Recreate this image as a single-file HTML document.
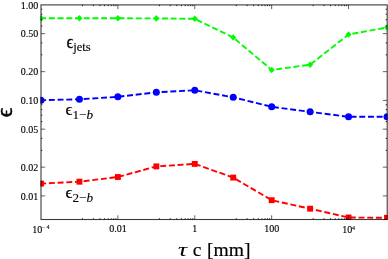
<!DOCTYPE html><html><head><meta charset="utf-8"><style>html,body{margin:0;padding:0;background:#fff}body{width:388px;height:259px;overflow:hidden;position:relative}</style></head><body><svg width="388" height="259" viewBox="0 0 388 259" style="position:absolute;left:0;top:0"><clipPath id="cp"><rect x="40.4" y="4.300000000000001" width="347.2" height="215.79999999999998"/></clipPath><g clip-path="url(#cp)"><polyline points="41.00,18.20 79.44,18.30 117.89,18.30 156.33,18.40 194.78,18.80 233.22,37.50 271.67,70.00 310.11,64.70 348.56,34.50 387.00,27.50" fill="none" stroke="#00fc00" stroke-width="1.9" stroke-dasharray="5.95 2.75" stroke-dashoffset="0.8"/><path d="M41.00 14.90L44.00 18.20L41.00 21.50L38.00 18.20Z" fill="#00fc00"/><path d="M79.44 15.00L82.44 18.30L79.44 21.60L76.44 18.30Z" fill="#00fc00"/><path d="M117.89 15.00L120.89 18.30L117.89 21.60L114.89 18.30Z" fill="#00fc00"/><path d="M156.33 15.10L159.33 18.40L156.33 21.70L153.33 18.40Z" fill="#00fc00"/><path d="M194.78 15.50L197.78 18.80L194.78 22.10L191.78 18.80Z" fill="#00fc00"/><path d="M233.22 34.20L236.22 37.50L233.22 40.80L230.22 37.50Z" fill="#00fc00"/><path d="M271.67 66.70L274.67 70.00L271.67 73.30L268.67 70.00Z" fill="#00fc00"/><path d="M310.11 61.40L313.11 64.70L310.11 68.00L307.11 64.70Z" fill="#00fc00"/><path d="M348.56 31.20L351.56 34.50L348.56 37.80L345.56 34.50Z" fill="#00fc00"/><path d="M387.00 24.20L390.00 27.50L387.00 30.80L384.00 27.50Z" fill="#00fc00"/><polyline points="41.00,100.20 79.44,99.30 117.89,96.80 156.33,92.30 194.78,90.30 233.22,97.30 271.67,106.80 310.11,111.80 348.56,116.80 387.00,116.80" fill="none" stroke="#0000ff" stroke-width="1.9" stroke-dasharray="5.95 2.75" stroke-dashoffset="0.8"/><circle cx="41.00" cy="100.20" r="3.5" fill="#0000ff"/><circle cx="79.44" cy="99.30" r="3.5" fill="#0000ff"/><circle cx="117.89" cy="96.80" r="3.5" fill="#0000ff"/><circle cx="156.33" cy="92.30" r="3.5" fill="#0000ff"/><circle cx="194.78" cy="90.30" r="3.5" fill="#0000ff"/><circle cx="233.22" cy="97.30" r="3.5" fill="#0000ff"/><circle cx="271.67" cy="106.80" r="3.5" fill="#0000ff"/><circle cx="310.11" cy="111.80" r="3.5" fill="#0000ff"/><circle cx="348.56" cy="116.80" r="3.5" fill="#0000ff"/><circle cx="387.00" cy="116.80" r="3.5" fill="#0000ff"/><polyline points="41.00,183.60 79.44,181.70 117.89,177.00 156.33,166.40 194.78,163.90 233.22,177.60 271.67,200.20 310.11,208.70 348.56,217.50 387.00,217.80" fill="none" stroke="#ff0000" stroke-width="1.9" stroke-dasharray="5.95 2.75" stroke-dashoffset="0.8"/><rect x="38.05" y="180.65" width="5.9" height="5.9" fill="#ff0000"/><rect x="76.49" y="178.75" width="5.9" height="5.9" fill="#ff0000"/><rect x="114.94" y="174.05" width="5.9" height="5.9" fill="#ff0000"/><rect x="153.38" y="163.45" width="5.9" height="5.9" fill="#ff0000"/><rect x="191.83" y="160.95" width="5.9" height="5.9" fill="#ff0000"/><rect x="230.27" y="174.65" width="5.9" height="5.9" fill="#ff0000"/><rect x="268.72" y="197.25" width="5.9" height="5.9" fill="#ff0000"/><rect x="307.16" y="205.75" width="5.9" height="5.9" fill="#ff0000"/><rect x="345.61" y="214.55" width="5.9" height="5.9" fill="#ff0000"/><rect x="384.05" y="214.85" width="5.9" height="5.9" fill="#ff0000"/></g><path d="M82.49 219.5v-1.25M82.49 4.9v1.25M93.35 219.5v-1.25M93.35 4.9v1.25M99.88 219.5v-1.25M99.88 4.9v1.25M104.56 219.5v-1.25M104.56 4.9v1.25M108.21 219.5v-1.25M108.21 4.9v1.25M111.20 219.5v-1.25M111.20 4.9v1.25M113.74 219.5v-1.25M113.74 4.9v1.25M115.94 219.5v-1.25M115.94 4.9v1.25M159.38 219.5v-1.25M159.38 4.9v1.25M170.24 219.5v-1.25M170.24 4.9v1.25M176.77 219.5v-1.25M176.77 4.9v1.25M181.45 219.5v-1.25M181.45 4.9v1.25M185.10 219.5v-1.25M185.10 4.9v1.25M188.09 219.5v-1.25M188.09 4.9v1.25M190.63 219.5v-1.25M190.63 4.9v1.25M192.83 219.5v-1.25M192.83 4.9v1.25M236.27 219.5v-1.25M236.27 4.9v1.25M247.13 219.5v-1.25M247.13 4.9v1.25M253.65 219.5v-1.25M253.65 4.9v1.25M258.33 219.5v-1.25M258.33 4.9v1.25M261.99 219.5v-1.25M261.99 4.9v1.25M264.98 219.5v-1.25M264.98 4.9v1.25M267.52 219.5v-1.25M267.52 4.9v1.25M269.72 219.5v-1.25M269.72 4.9v1.25M313.16 219.5v-1.25M313.16 4.9v1.25M324.02 219.5v-1.25M324.02 4.9v1.25M330.54 219.5v-1.25M330.54 4.9v1.25M335.22 219.5v-1.25M335.22 4.9v1.25M338.87 219.5v-1.25M338.87 4.9v1.25M341.87 219.5v-1.25M341.87 4.9v1.25M344.41 219.5v-1.25M344.41 4.9v1.25M346.61 219.5v-1.25M346.61 4.9v1.25M41.0 9.27h1.3M387.0 9.27h-1.3M41.0 14.15h1.3M387.0 14.15h-1.3M41.0 19.69h1.3M387.0 19.69h-1.3M41.0 26.09h1.3M387.0 26.09h-1.3M41.0 42.90h1.3M387.0 42.90h-1.3M41.0 54.83h1.3M387.0 54.83h-1.3M41.0 104.77h1.3M387.0 104.77h-1.3M41.0 109.65h1.3M387.0 109.65h-1.3M41.0 115.19h1.3M387.0 115.19h-1.3M41.0 121.59h1.3M387.0 121.59h-1.3M41.0 138.40h1.3M387.0 138.40h-1.3M41.0 150.33h1.3M387.0 150.33h-1.3" stroke="#000" stroke-width="0.85" fill="none"/><path d="M117.89 219.5v-4.2M117.89 4.9v4.2M194.78 219.5v-4.2M194.78 4.9v4.2M271.67 219.5v-4.2M271.67 4.9v4.2M348.56 219.5v-4.2M348.56 4.9v4.2M41.0 33.65h4.2M387.0 33.65h-4.2M41.0 71.65h4.2M387.0 71.65h-4.2M41.0 100.40h4.2M387.0 100.40h-4.2M41.0 129.15h4.2M387.0 129.15h-4.2M41.0 167.15h4.2M387.0 167.15h-4.2M41.0 195.90h4.2M387.0 195.90h-4.2" stroke="#222" stroke-width="0.7" fill="none"/><rect x="41.0" y="4.9" width="346.2" height="214.6" fill="none" stroke="#3c3c3c" stroke-width="1.1" style="mix-blend-mode:multiply"/><text x="38.2" y="8.60" text-anchor="end" style="font-family:'Liberation Serif',serif;font-size:10px;fill:#000;stroke:#000;stroke-width:0.12px">1.00</text><text x="38.2" y="37.35" text-anchor="end" style="font-family:'Liberation Serif',serif;font-size:10px;fill:#000;stroke:#000;stroke-width:0.12px">0.50</text><text x="38.2" y="75.35" text-anchor="end" style="font-family:'Liberation Serif',serif;font-size:10px;fill:#000;stroke:#000;stroke-width:0.12px">0.20</text><text x="38.2" y="104.10" text-anchor="end" style="font-family:'Liberation Serif',serif;font-size:10px;fill:#000;stroke:#000;stroke-width:0.12px">0.10</text><text x="38.2" y="132.85" text-anchor="end" style="font-family:'Liberation Serif',serif;font-size:10px;fill:#000;stroke:#000;stroke-width:0.12px">0.05</text><text x="38.2" y="170.85" text-anchor="end" style="font-family:'Liberation Serif',serif;font-size:10px;fill:#000;stroke:#000;stroke-width:0.12px">0.02</text><text x="38.2" y="199.60" text-anchor="end" style="font-family:'Liberation Serif',serif;font-size:10px;fill:#000;stroke:#000;stroke-width:0.12px">0.01</text><text x="117.89" y="231.6" text-anchor="middle" style="font-family:'Liberation Serif',serif;font-size:10px;fill:#000;stroke:#000;stroke-width:0.12px">0.01</text><text x="194.78" y="231.6" text-anchor="middle" style="font-family:'Liberation Serif',serif;font-size:10px;fill:#000;stroke:#000;stroke-width:0.12px">1</text><text x="271.67" y="231.6" text-anchor="middle" style="font-family:'Liberation Serif',serif;font-size:10px;fill:#000;stroke:#000;stroke-width:0.12px">100</text><text x="32.2" y="233" style="font-family:'Liberation Serif',serif;font-size:10px;fill:#000;stroke:#000;stroke-width:0.12px">10</text><text x="41.7" y="229.0" style="font-family:'Liberation Serif',serif;font-size:6px;fill:#000;stroke:#000;stroke-width:0.12px">−<tspan x="46.5">4</tspan></text><text x="342.2" y="233" style="font-family:'Liberation Serif',serif;font-size:10px;fill:#000;stroke:#000;stroke-width:0.12px">10</text><text x="352.1" y="230.0" style="font-family:'Liberation Serif',serif;font-size:6px;fill:#000;stroke:#000;stroke-width:0.12px">4</text><text transform="translate(178.0,255.6) scale(1.3,0.93)" style="font-family:'Liberation Serif',serif;font-size:19.4px;fill:#000;stroke:#000;stroke-width:0.18px;font-style:italic;stroke-width:0.08px">τ</text><text x="192.8" y="255.6" style="font-family:'Liberation Serif',serif;font-size:19.4px;fill:#000;stroke:#000;stroke-width:0.18px;font-size:19.6px;word-spacing:0.6px">c [mm]</text><text transform="translate(12.1,117.3) rotate(-90) scale(1.0,1.0)" style="font-family:'Liberation Serif',serif;font-size:23.5px;fill:#000;stroke:#000;stroke-width:0.55px">ϵ</text><text transform="translate(66.5,47.6) scale(1,1.12)" style="font-family:'Liberation Serif',serif;font-size:17px;fill:#000;stroke:#000;stroke-width:0.25px">ϵ</text><text x="73.2" y="50.5" style="font-family:'Liberation Serif',serif;font-size:12.6px;fill:#000;stroke:#000;stroke-width:0.12px">jets</text><text transform="translate(65.5,114.6) scale(1,0.98)" style="font-family:'Liberation Serif',serif;font-size:17px;fill:#000;stroke:#000;stroke-width:0.25px">ϵ</text><text x="72.4" y="118.6" style="font-family:'Liberation Serif',serif;font-size:13.2px;fill:#000;stroke:#000;stroke-width:0.12px">1−<tspan font-style="italic">b</tspan></text><text transform="translate(65.5,197.6) scale(1,0.98)" style="font-family:'Liberation Serif',serif;font-size:17px;fill:#000;stroke:#000;stroke-width:0.25px">ϵ</text><text x="72.4" y="201.6" style="font-family:'Liberation Serif',serif;font-size:13.2px;fill:#000;stroke:#000;stroke-width:0.12px">2−<tspan font-style="italic">b</tspan></text></svg></body></html>
